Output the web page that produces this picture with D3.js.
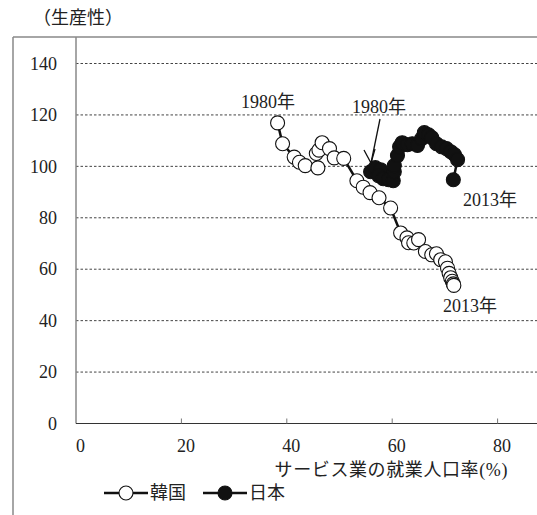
<!DOCTYPE html>
<html><head><meta charset="utf-8">
<script src="https://cdn.jsdelivr.net/npm/d3@7"></script>
<style>
html,body{margin:0;padding:0;background:#fff;}
svg text{font-family:"Liberation Serif","Noto Sans CJK JP",serif;fill:#222;}
</style></head>
<body><svg id="c" width="537" height="515"></svg>
<script>
// Service employment share (%) vs productivity, 1980-2013
const koreaX = [38.25,39.2,41.4,42.4,43.5,45.9,45.6,46.1,46.7,48.1,49.0,50.8,53.3,54.5,55.8,57.5,59.7,61.6,62.8,63.1,64.1,65.0,66.3,67.5,68.4,69.2,70.1,70.5,70.8,71.1,71.4,71.6,71.7];
const koreaY = [116.9,108.8,103.6,101.6,100.3,99.4,105.0,106.3,109.2,106.9,103.3,103.1,94.4,91.9,89.8,87.8,83.8,74.1,72.2,70.3,70.2,71.5,66.9,65.6,66.0,63.7,62.9,60.4,58.4,56.7,55.3,54.3,53.7];
const japanX = [55.9,56.8,57.8,57.4,58.3,59.3,60.2,60.4,60.4,61.0,61.4,61.9,62.9,63.8,64.8,65.6,66.1,66.9,67.5,68.4,69.4,70.3,71.1,71.8,72.4,71.6];
const japanY = [97.9,99.5,98.7,96.4,95.2,94.8,94.4,97.9,100.3,104.2,107.6,109.2,108.4,108.8,108.1,110.8,113.1,112.3,111.2,108.8,107.6,106.9,105.7,104.6,102.6,94.8];
const yTicks = [0,20,40,60,80,100,120,140];
const xTicks = [0,20,40,60,80];
const seriesNames = ["韓国","日本"];
const yTitle = "（生産性）";
const xTitle = "サービス業の就業人口率(%)";

const svg = d3.select("#c");
const x = d3.scaleLinear().domain([0,80]).range([76,497.6]);
const y = d3.scaleLinear().domain([0,140]).range([423.5,63.5]);
const W = 537;

// outer frame
svg.append("line").attr("x1",13).attr("x2",W).attr("y1",37).attr("y2",37).attr("stroke","#888").attr("stroke-width",1.5);
svg.append("line").attr("x1",13).attr("x2",13).attr("y1",37).attr("y2",515).attr("stroke","#888").attr("stroke-width",1.5);

// grid
svg.selectAll(".grid").data(yTicks.filter(d=>d>0)).join("line")
  .attr("x1",x(0)).attr("x2",W).attr("y1",d=>y(d)).attr("y2",d=>y(d))
  .attr("stroke","#444").attr("stroke-width",1).attr("stroke-dasharray","2.5,2");

// y axis
const yAxis = d3.axisLeft(y).tickValues(yTicks).tickSize(0).tickPadding(19);
const gy = svg.append("g").attr("transform",`translate(${x(0)},0)`).call(yAxis);
gy.select(".domain").remove();
gy.selectAll("text").attr("font-size",18).style("font-family","Liberation Serif");
svg.append("line").attr("x1",x(0)).attr("x2",x(0)).attr("y1",37).attr("y2",y(0)).attr("stroke","#888").attr("stroke-width",1.5);

// x axis
const xAxis = d3.axisBottom(x).tickValues(xTicks).tickSize(0).tickPadding(16);
const gx = svg.append("g").attr("transform",`translate(0,${y(0)})`).call(xAxis);
gx.select(".domain").remove();
gx.selectAll("text").attr("font-size",18).attr("dx",4).style("font-family","Liberation Serif");
svg.append("line").attr("x1",x(0)).attr("x2",W).attr("y1",y(0)).attr("y2",y(0)).attr("stroke","#333").attr("stroke-width",1.2);
svg.selectAll(".xt").data(xTicks.filter(d=>d>0)).join("line")
  .attr("x1",d=>x(d)).attr("x2",d=>x(d)).attr("y1",y(0)).attr("y2",y(0)-5)
  .attr("stroke","#777").attr("stroke-width",1);

// titles
svg.append("text").attr("x",33).attr("y",24).attr("font-size",18).text(yTitle);
svg.append("text").attr("x",508).attr("y",476).attr("text-anchor","end").attr("font-size",18).attr("letter-spacing",0.6).text(xTitle);

// series
function drawSeries(xs, ys, fill){
  const pts = xs.map((v,i)=>[x(v),y(ys[i])]);
  svg.append("path").attr("d",d3.line()(pts)).attr("fill","none").attr("stroke","#111").attr("stroke-width",2.5);
  svg.append("g").selectAll("circle").data(pts).join("circle")
    .attr("cx",d=>d[0]).attr("cy",d=>d[1]).attr("r",7)
    .attr("fill",fill).attr("stroke","#111").attr("stroke-width",1.1);
}
drawSeries(koreaX, koreaY, "#fff");
drawSeries(japanX, japanY, "#111");

// annotations
const ann = [
  {t:"1980年", x:241, y:108},
  {t:"1980年", x:352, y:113},
  {t:"2013年", x:463, y:206},
  {t:"2013年", x:443, y:312}
];
svg.selectAll(".ann").data(ann).join("text").attr("x",d=>d.x).attr("y",d=>d.y).attr("font-size",18).text(d=>d.t);

// arrow
svg.append("line").attr("x1",380).attr("y1",119).attr("x2",371).attr("y2",163).attr("stroke","#111").attr("stroke-width",1.3);
svg.append("path").attr("d","M364,150 L371,163 L375,149").attr("fill","none").attr("stroke","#111").attr("stroke-width",1.3);

// legend
const leg = [{n:seriesNames[0],x0:104,fill:"#fff"},{n:seriesNames[1],x0:203,fill:"#111"}];
const lg = svg.append("g");
leg.forEach(l=>{
  lg.append("line").attr("x1",l.x0).attr("x2",l.x0+44).attr("y1",493).attr("y2",493).attr("stroke","#111").attr("stroke-width",2.5);
  lg.append("circle").attr("cx",l.x0+22).attr("cy",493).attr("r",7).attr("fill",l.fill).attr("stroke","#111").attr("stroke-width",1.1);
  lg.append("text").attr("x",l.x0+46).attr("y",499).attr("font-size",18).text(l.n);
});
</script></body></html>
